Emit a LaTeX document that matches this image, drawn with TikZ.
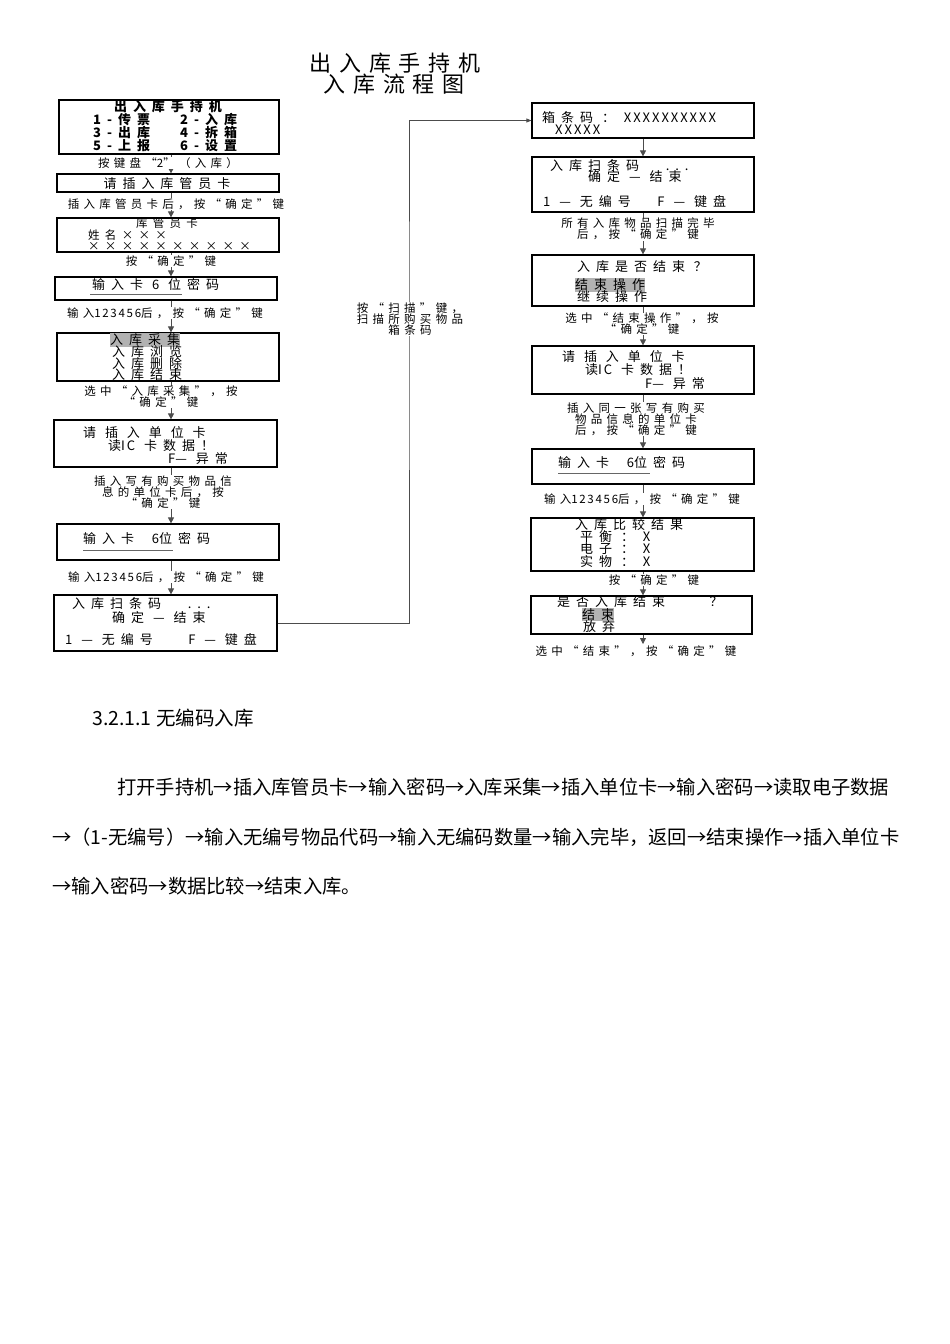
\documentclass[tikz,border=0pt]{standalone}
\usepackage{fontspec}
\usepackage{tikz}
\usetikzlibrary{arrows.meta,calc}
\setmainfont{Noto Sans CJK SC}
\newfontfamily\boxfont{Noto Sans CJK SC}[LetterSpace=46]
\newfontfamily\labfont{Noto Sans CJK SC}[LetterSpace=37]
\newfontfamily\titlefont{Noto Sans CJK SC}[LetterSpace=36]
\newfontfamily\latfont{Noto Sans CJK SC}[LetterSpace=15]
\newcommand\ltn[1]{{\latfont #1}}

\begin{document}
\begin{tikzpicture}[x=1pt,y=-1pt,
    box/.style={draw,line width=1.2pt,rectangle,inner sep=0pt},
    arr/.style={draw=black!70,line width=0.8pt,-{Triangle[width=6pt,length=6pt]}},
    lab/.style={fill=white,inner sep=0.5pt,align=center,font=\labfont\fontsize{11.5}{11}\selectfont},
    txt/.style={anchor=west,inner sep=0pt,font=\boxfont\fontsize{13}{13}\selectfont},
    small/.style={font=\boxfont\fontsize{11.5}{11}\selectfont},
    bold/.style={font=\boxfont\bfseries\fontsize{13}{13}\selectfont},
    hl/.style={fill=black!30,inner ysep=1pt}]

\useasboundingbox[fill=white] (0,0) rectangle (950,1344);

% Title
\node[font=\titlefont\fontsize{22}{22}\selectfont] (title1) at (395,63) {出入库手持机};
\node[font=\titlefont\fontsize{22}{22}\selectfont] (title2) at (394,84) {入库流程图};

% Left column boxes
\node[box,minimum width=220pt,minimum height=54pt] (menu) at (169,127) {};
\node[box,minimum width=222pt,minimum height=18pt] (card) at (168,183) {};
\node[box,minimum width=222pt,minimum height=34pt] (keeper) at (168,235) {};
\node[box,minimum width=222pt,minimum height=23pt] (pwda) at (166,288.5) {};
\node[box,minimum width=222pt,minimum height=48pt] (pick) at (168,357) {};
\node[box,minimum width=223pt,minimum height=47pt] (unita) at (165.5,443.5) {};
\node[box,minimum width=222pt,minimum height=36pt] (pwdb) at (168,542) {};
\node[box,minimum width=223pt,minimum height=56pt] (scana) at (165.5,623) {};

% Right column boxes
\node[box,minimum width=222pt,minimum height=35pt] (bar) at (643,120.5) {};
\node[box,minimum width=222pt,minimum height=55pt] (scanb) at (643,184.5) {};
\node[box,minimum width=222pt,minimum height=51pt] (ask) at (643,280.5) {};
\node[box,minimum width=222pt,minimum height=48pt] (unitb) at (643,370) {};
\node[box,minimum width=222pt,minimum height=35pt] (pwdc) at (643,466.5) {};
\node[box,minimum width=223pt,minimum height=53pt] (cmp) at (642.5,544.5) {};
\node[box,minimum width=221pt,minimum height=38pt] (fin) at (641.5,615) {};

\coordinate (lx) at (171,0);
\coordinate (rx) at (643,0);
\coordinate (rend) at (643,644);
\coordinate (turn) at (409,320);

% Connectors
\foreach \a/\b in {menu/card,card/keeper,keeper/pwda,pwda/pick,pick/unita,unita/pwdb,pwdb/scana}
  \draw[arr] (\a.south -| lx) -- (\b.north -| lx);
\foreach \a/\b in {bar/scanb,scanb/ask,ask/unitb,unitb/pwdc,pwdc/cmp,cmp/fin}
  \draw[arr] (\a.south -| rx) -- (\b.north -| rx);
\draw[arr] (fin.south -| rx) -- (rend);
\draw[arr,line width=0.7pt,-{Triangle[width=4pt,length=5pt]}] (scana.east) -| (turn) |- (bar.west);

% Text in left boxes
\node[txt,bold,anchor=center] at (168,107) {出入库手持机};
\node[txt,bold] at (93,120) {1-传票};
\node[txt,bold] at (180,120) {2-入库};
\node[txt,bold] at (93,133) {3-出库};
\node[txt,bold] at (180,133) {4-拆箱};
\node[txt,bold] at (93,146) {5-上报};
\node[txt,bold] at (180,146) {6-设置};
\node[txt,anchor=center] at (167,184) {请插入库管员卡};
\node[txt,small,anchor=center] at (167,223.5) {库管员卡};
\node[txt,small] at (88,235) {姓名×××};
\node[txt,small] at (88,246.5) {××××××××××};
\node[txt] at (92,284) {输入卡 \ltn{6} 位密码};
\draw[black!60] (90,294) -- (182,294);
\node[txt,hl] at (110,340) {入库采集};
\node[txt] at (112,351.5) {入库浏览};
\node[txt] at (112,363.5) {入库删除};
\node[txt] at (112,375) {入库结束};
\node[txt] at (83,433) {请 插 入 单 位 卡};
\node[txt] at (108,446) {读\ltn{IC} 卡数据！};
\node[txt] at (168,459) {\ltn{F}— 异常};
\node[txt] at (83,538) {输入卡 \ \ltn{6}位密码};
\draw[black!60] (83,550) -- (173,550);
\node[txt] at (72,604) {入库扫条码 \ \ ...};
\node[txt] at (112,618) {确定 — 结束};
\node[txt] at (65,640) {\ltn{1} — 无编号 \ \ \ \ltn{F} — 键盘};

% Text in right boxes
\node[txt] at (542,118) {箱条码 ： \ltn{XXXXXXXXXX}};
\node[txt] at (555,130) {\ltn{XXXXX}};
\node[txt] at (550,166) {入库扫条码 \ \ ...};
\node[txt] at (588,177) {确定 — 结束};
\node[txt] at (543,202) {\ltn{1} — 无编号 \ \ \ltn{F} — 键盘};
\node[txt] at (577,267) {入库是否结束 ？};
\node[txt,hl] at (575,285) {结束操作};
\node[txt] at (577,297) {继续操作};
\node[txt] at (562,357) {请 插 入 单 位 卡};
\node[txt] at (585,370) {读\ltn{IC} 卡数据！};
\node[txt] at (645,384) {\ltn{F}— 异常};
\node[txt] at (558,462) {输入卡 \ \ltn{6}位密码};
\draw[black!60] (558,473) -- (650,473);
\node[txt] at (575,525) {入库比较结果};
\node[txt] at (580,537) {平衡 ： \ltn{X}};
\node[txt] at (580,549) {电子 ： \ltn{X}};
\node[txt] at (580,562) {实物 ： \ltn{X}};
\node[txt] at (557,602) {是否入库结束 \ \ \ \ ？};
\node[txt,hl] at (582,614.5) {结束};
\node[txt] at (583,627) {放弃};

% Connector labels
\node[lab] (la) at (168,163) {按键盘“\ltn{2}”（入库）};
\node[lab] (lb) at (176,204) {插入库管员卡后，按“确定”键};
\node[lab] (lc) at (171,261) {按“确定”键};
\node[lab] (ld) at (165,313) {输入\ltn{123456}后，按“确定”键};
\node[lab] (le) at (161,397) {选中“入库采集”，按\\“确定”键};
\node[lab] (lf) at (163,492) {插入写有购买物品信\\息的单位卡后，按\\“确定”键};
\node[lab] (lg) at (166,577) {输入\ltn{123456}后，按“确定”键};
\node[lab] (lh) at (410,319) {按“扫描”键，\\扫描所购买物品\\箱条码};
\node[lab] (ra) at (638,229) {所有入库物品扫描完毕\\后，按“确定”键};
\node[lab] (rb) at (642,324) {选中“结束操作”，按\\“确定”键};
\node[lab] (rc) at (636,419) {插入同一张写有购买\\物品信息的单位卡\\后，按“确定”键};
\node[lab] (rd) at (642,499) {输入\ltn{123456}后，按“确定”键};
\node[lab] (re) at (654,580) {按“确定”键};
\node[lab] (rf) at (636,651) {选中“结束”，按“确定”键};

% Text below the chart
\node[anchor=west,inner sep=0pt,font=\fontsize{19.5}{20}\selectfont] (head) at (92,718) {3.2.1.1 无编码入库};
\begin{scope}[every node/.style={anchor=west,inner sep=0pt,font=\fontsize{19.3}{21}\selectfont}]
\node (pa) at (117,787) {打开手持机→插入库管员卡→输入密码→入库采集→插入单位卡→输入密码→读取电子数据};
\node (pb) at (52,837) {→（1-无编号）→输入无编号物品代码→输入无编码数量→输入完毕，返回→结束操作→插入单位卡};
\node (pc) at (52,886) {→输入密码→数据比较→结束入库。};
\end{scope}

\end{tikzpicture}
\end{document}
